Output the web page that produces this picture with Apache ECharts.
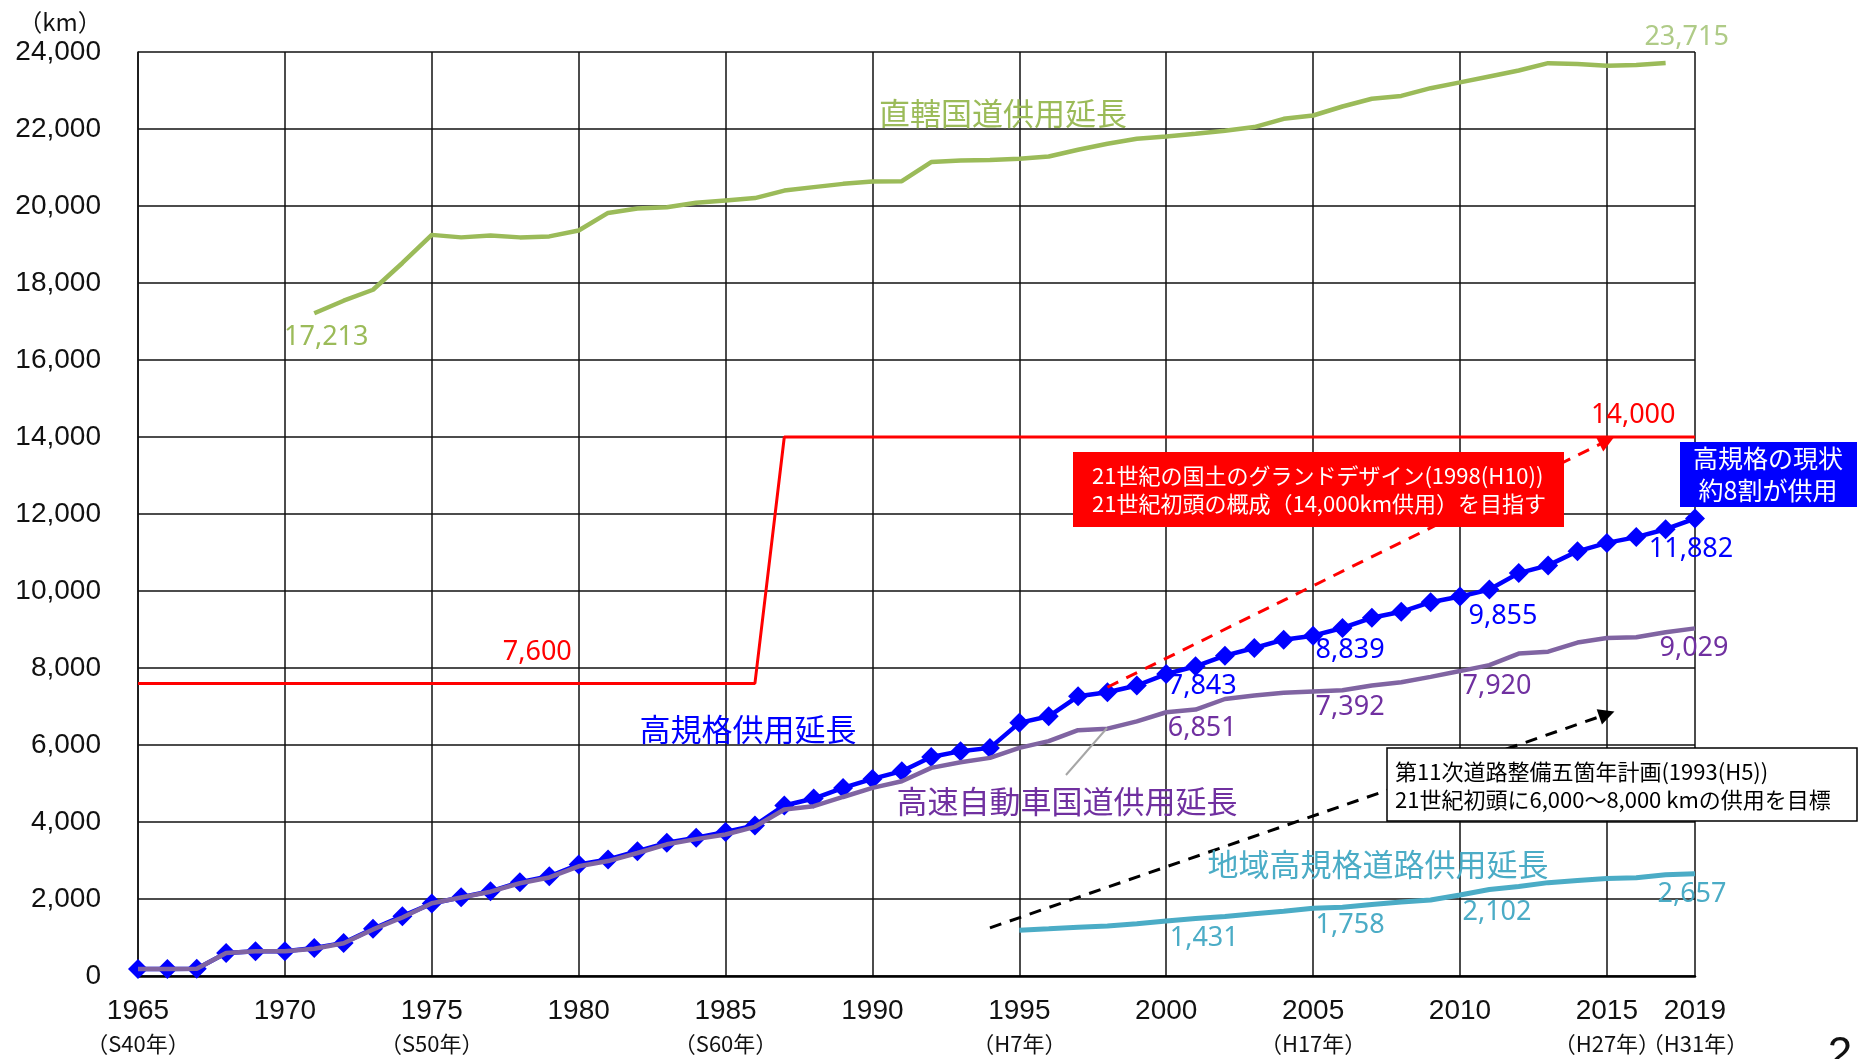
<!DOCTYPE html>
<html>
<head>
<meta charset="utf-8">
<title>高規格道路等の供用延長の推移</title>
<script src="https://cdn.jsdelivr.net/npm/echarts@6/dist/echarts.min.js"></script>
<style>
  html, body { margin: 0; padding: 0; background: #fff; }
  #chart { width: 1863px; height: 1059px; }
</style>
</head>
<body>
<div id="chart"></div>
<script>
// 年度（カテゴリ）: 1965〜2017, 2019
const years = [
  '1965','1966','1967','1968','1969','1970','1971','1972','1973','1974',
  '1975','1976','1977','1978','1979','1980','1981','1982','1983','1984',
  '1985','1986','1987','1988','1989','1990','1991','1992','1993','1994',
  '1995','1996','1997','1998','1999','2000','2001','2002','2003','2004',
  '2005','2006','2007','2008','2009','2010','2011','2012','2013','2014',
  '2015','2016','2017','2019'
];

// 目盛ラベルを出す年と元号併記
const xTickYears = ['1965','1970','1975','1980','1985','1990','1995','2000','2005','2010','2015','2019'];
const latestYear = '2019';
const eraLabels = {
  '1965': '（S40年）', '1975': '（S50年）', '1985': '（S60年）', '1995': '（H7年）',
  '2005': '（H17年）', '2015': '（H27年）', '2019': '（H31年）'
};

// 直轄国道供用延長 (km)
const directNational = [
  null, null, null, null, null, null,
  17213, 17540, 17825, 18520, 19250, 19185, 19235, 19185, 19210, 19365,
  19820, 19935, 19965, 20085, 20145, 20205, 20400, 20490, 20575, 20635,
  20645, 21140, 21180, 21195, 21225, 21285, 21460, 21615, 21745, 21805,
  21875, 21955, 22050, 22265, 22350, 22585, 22785, 22860, 23060, 23210,
  23365, 23520, 23710, 23690, 23640, 23665, 23715,
  null
];

// 高規格供用延長 (km)
const highStandard = [
  181, 181, 190, 600, 645, 645, 730, 860, 1225, 1555,
  1880, 2045, 2200, 2435, 2590, 2895, 3025, 3240, 3460, 3590,
  3740, 3910, 4430, 4610, 4885, 5120, 5320, 5690, 5840, 5925,
  6575, 6745, 7265, 7370, 7545, 7843, 8045, 8320, 8520, 8735,
  8839, 9040, 9305, 9460, 9710, 9855, 10040, 10465, 10665, 11030,
  11250, 11400, 11605, 11882
];

// 高速自動車国道供用延長 (km)
const expressway = [
  181, 181, 190, 600, 640, 640, 710, 850, 1210, 1520,
  1890, 2040, 2190, 2410, 2560, 2850, 2985, 3195, 3420, 3555,
  3675, 3875, 4325, 4410, 4650, 4885, 5060, 5405, 5550, 5665,
  5925, 6100, 6385, 6425, 6615, 6851, 6920, 7195, 7285, 7355,
  7392, 7420, 7545, 7630, 7770, 7920, 8075, 8375, 8425, 8660,
  8780, 8800, 8930, 9029
];

// 地域高規格道路供用延長 (km)
const regionalHighStandard = [
  null, null, null, null, null, null, null, null, null, null,
  null, null, null, null, null, null, null, null, null, null,
  null, null, null, null, null, null, null, null, null, null,
  1190, 1225, 1265, 1300, 1360, 1431, 1495, 1545, 1615, 1680,
  1758, 1785, 1860, 1920, 1975, 2102, 2245, 2325, 2425, 2480,
  2530, 2550, 2630, 2657
];

// 計画延長 (km): 7,600 → 14,000
const planTarget = [
  7600, 7600, 7600, 7600, 7600, 7600, 7600, 7600, 7600, 7600,
  7600, 7600, 7600, 7600, 7600, 7600, 7600, 7600, 7600, 7600,
  7600, 7600,
  14000, 14000, 14000, 14000, 14000, 14000, 14000, 14000,
  14000, 14000, 14000, 14000, 14000, 14000, 14000, 14000,
  14000, 14000, 14000, 14000, 14000, 14000, 14000, 14000,
  14000, 14000, 14000, 14000, 14000, 14000, 14000, 14000
];

// 目標の矢印（始点・終点）
const grandDesignArrow = [['1998', 7500], ['2015', 13900]];
const plan11Arrow = [['1994', 1250], ['2015', 6800]];

const FONT_NUM = "'Noto Sans', 'Noto Sans CJK JP', sans-serif";
const FONT_AXIS = "'Liberation Sans', 'Noto Sans CJK JP', sans-serif";
const FONT_JP = "'Noto Sans CJK JP', sans-serif";
const fmt = v => Number(v).toLocaleString('en-US');

const C_GREEN = '#9BBB59';
const C_BLUE = '#0000FF';
const C_PURPLE_LINE = '#8064A2';
const C_PURPLE_TEXT = '#7030A0';
const C_CYAN = '#4BACC6';
const C_RED = '#FF0000';

// 値ラベル付きのデータ点を組み立てる（offset はラベル中心のずれ）
function withLabels(values, offsets, color, keepMarker) {
  return values.map((v, i) => {
    const off = offsets[years[i]];
    if (v == null || !off) return v;
    const item = {
      value: v,
      label: {
        show: true, position: 'inside', offset: off, color: color,
        fontFamily: FONT_NUM, fontSize: 27, formatter: p => fmt(p.value)
      }
    };
    if (!keepMarker) {
      item.symbol = 'circle';
      item.symbolSize = 2;
      item.itemStyle = { color: 'rgba(0,0,0,0)' };
    }
    return item;
  });
}

// 直轄国道の最終値（2017）だけを取り出す
const directNationalLatest = directNational.map((v, i) => (years[i] === '2017' ? v : null));

const isTick = (i) => xTickYears.includes(years[i]);
const isTickBeforeLatest = (i) => isTick(i) && years[i] !== latestYear;
const isLatest = (i) => years[i] === latestYear;

const yearLabel = v => eraLabels[v] ? `{y|${v}}\n{e|${eraLabels[v]}}` : `{y|${v}}`;
const yearRich = {
  y: { fontFamily: FONT_AXIS, fontSize: 28, lineHeight: 32, color: '#111' },
  e: { fontFamily: FONT_JP, fontSize: 22, lineHeight: 34, color: '#111' }
};

const chart = echarts.init(document.getElementById('chart'), null, { renderer: 'canvas' });

chart.setOption({
  animation: false,
  backgroundColor: '#fff',
  grid: { left: 138, right: 168, top: 52, bottom: 83, containLabel: false, outerBoundsMode: 'none' },
  xAxis: [
    {
      type: 'category',
      data: years,
      boundaryGap: false,
      axisLine: { show: true, onZero: true, lineStyle: { color: '#000', width: 2.5 } },
      axisTick: { show: false },
      axisLabel: { interval: isTickBeforeLatest, margin: 19, formatter: yearLabel, rich: yearRich },
      splitLine: { show: true, interval: isTick, lineStyle: { color: '#111', width: 1.5 } }
    },
    {
      // 最新年（2019）の目盛ラベル
      type: 'category',
      data: years,
      position: 'bottom',
      boundaryGap: false,
      axisLine: { show: false, onZero: false },
      axisTick: { show: false },
      splitLine: { show: false },
      axisLabel: { interval: isLatest, margin: 19, formatter: yearLabel, rich: yearRich }
    }
  ],
  yAxis: {
    type: 'value',
    min: 0, max: 24000, interval: 2000,
    axisLine: { show: true, lineStyle: { color: '#111', width: 1.5 } },
    axisTick: { show: false },
    axisLabel: { margin: 37, fontFamily: FONT_AXIS, fontSize: 28, color: '#111', formatter: v => fmt(v) },
    splitLine: { show: true, lineStyle: { color: '#111', width: 1.5 } }
  },
  series: [
    {
      name: '計画延長',
      type: 'line',
      data: withLabels(planTarget, { '1979': [-12, -31], '2016': [-3, -22] }, C_RED),
      symbol: 'none', showSymbol: true, showAllSymbol: true,
      lineStyle: { color: C_RED, width: 3 },
      itemStyle: { color: C_RED },
      emphasis: { disabled: true },
      silent: true,
      z: 3,
      markLine: {
        silent: true,
        symbol: ['none', 'triangle'],
        symbolSize: 16,
        label: { show: false },
        emphasis: { disabled: true },
        lineStyle: { color: C_RED, width: 3, type: [12, 9] },
        data: [[{ coord: grandDesignArrow[0] }, { coord: grandDesignArrow[1] }]]
      }
    },
    {
      name: '直轄国道供用延長',
      type: 'line',
      data: withLabels(directNational, { '1971': [12, 24] }, C_GREEN),
      symbol: 'none', showSymbol: true, showAllSymbol: true,
      lineStyle: { color: C_GREEN, width: 4.5 },
      itemStyle: { color: C_GREEN },
      emphasis: { disabled: true },
      silent: true,
      z: 3
    },
    {
      name: '直轄国道供用延長（最新）',
      type: 'line',
      data: withLabels(directNationalLatest, { '2017': [21, -26] }, '#AFCB87'),
      symbol: 'none', showSymbol: true, showAllSymbol: true,
      lineStyle: { width: 0 },
      emphasis: { disabled: true },
      silent: true,
      z: 3
    },
    {
      name: '地域高規格道路供用延長',
      type: 'line',
      data: withLabels(regionalHighStandard,
        { '2000': [38, 17], '2005': [37, 17], '2010': [37, 17], '2019': [-3, 21] }, C_CYAN),
      symbol: 'none', showSymbol: true, showAllSymbol: true,
      lineStyle: { color: C_CYAN, width: 5 },
      itemStyle: { color: C_CYAN },
      emphasis: { disabled: true },
      silent: true,
      z: 3,
      markLine: {
        silent: true,
        symbol: ['none', 'triangle'],
        symbolSize: 16,
        label: { show: false },
        emphasis: { disabled: true },
        lineStyle: { color: '#000', width: 3, type: [12, 9] },
        data: [[{ coord: plan11Arrow[0] }, { coord: plan11Arrow[1] }]]
      }
    },
    {
      name: '高規格供用延長',
      type: 'line',
      data: withLabels(highStandard,
        { '2000': [36, 12], '2005': [37, 15], '2010': [43, 20], '2019': [-4, 31] }, C_BLUE, true),
      symbol: 'diamond', symbolSize: [20, 20], showSymbol: true, showAllSymbol: true,
      lineStyle: { color: C_BLUE, width: 4.5 },
      itemStyle: { color: C_BLUE },
      emphasis: { disabled: true },
      silent: true,
      z: 4
    },
    {
      name: '高速自動車国道供用延長',
      type: 'line',
      data: withLabels(expressway,
        { '2000': [36, 16], '2005': [37, 16], '2010': [37, 15], '2019': [-1, 20] }, C_PURPLE_TEXT),
      symbol: 'none', showSymbol: true, showAllSymbol: true,
      lineStyle: { color: C_PURPLE_LINE, width: 4.5 },
      itemStyle: { color: C_PURPLE_LINE },
      emphasis: { disabled: true },
      silent: true,
      z: 5
    }
  ],
  graphic: [
    { type: 'text', x: 60, y: 22, z: 20,
      style: { text: '（km）', fill: '#111', fontFamily: FONT_JP, fontSize: 24, align: 'center', verticalAlign: 'middle' } },

    // 系列名
    { type: 'text', x: 1003, y: 113, z: 20,
      style: { text: '直轄国道供用延長', fill: C_GREEN, fontFamily: FONT_JP, fontSize: 31, align: 'center', verticalAlign: 'middle' } },
    { type: 'text', x: 748, y: 729, z: 20,
      style: { text: '高規格供用延長', fill: C_BLUE, fontFamily: FONT_JP, fontSize: 31, align: 'center', verticalAlign: 'middle' } },
    { type: 'text', x: 1067, y: 801, z: 20,
      style: { text: '高速自動車国道供用延長', fill: C_PURPLE_TEXT, fontFamily: FONT_JP, fontSize: 31, align: 'center', verticalAlign: 'middle' } },
    { type: 'line', z: 20, shape: { x1: 1107, y1: 728, x2: 1066, y2: 775 },
      style: { stroke: '#A6A6A6', lineWidth: 2 } },
    { type: 'text', x: 1378, y: 864, z: 20,
      style: { text: '地域高規格道路供用延長', fill: C_CYAN, fontFamily: FONT_JP, fontSize: 31, align: 'center', verticalAlign: 'middle' } },

    // 21世紀の国土のグランドデザイン
    { type: 'rect', z: 30, shape: { x: 1073, y: 452, width: 491, height: 75 }, style: { fill: C_RED } },
    { type: 'text', x: 1092, y: 476, z: 31,
      style: { text: '21世紀の国土のグランドデザイン(1998(H10))', fill: '#fff', fontFamily: FONT_JP, fontSize: 22, align: 'left', verticalAlign: 'middle' } },
    { type: 'text', x: 1092, y: 504, z: 31,
      style: { text: '21世紀初頭の概成（14,000km供用）を目指す', fill: '#fff', fontFamily: FONT_JP, fontSize: 22, align: 'left', verticalAlign: 'middle' } },

    // 高規格の現状
    { type: 'rect', z: 30, shape: { x: 1680, y: 442, width: 177, height: 65 }, style: { fill: C_BLUE } },
    { type: 'text', x: 1768, y: 458, z: 31,
      style: { text: '高規格の現状', fill: '#fff', fontFamily: FONT_JP, fontSize: 25, align: 'center', verticalAlign: 'middle' } },
    { type: 'text', x: 1768, y: 490, z: 31,
      style: { text: '約8割が供用', fill: '#fff', fontFamily: FONT_JP, fontSize: 25, align: 'center', verticalAlign: 'middle' } },

    // 第11次道路整備五箇年計画
    { type: 'rect', z: 30, shape: { x: 1387, y: 748, width: 470, height: 73 },
      style: { fill: '#fff', stroke: '#000', lineWidth: 1.5 } },
    { type: 'text', x: 1395, y: 772, z: 31,
      style: { text: '第11次道路整備五箇年計画(1993(H5))', fill: '#000', fontFamily: FONT_JP, fontSize: 22, align: 'left', verticalAlign: 'middle' } },
    { type: 'text', x: 1395, y: 800, z: 31,
      style: { text: '21世紀初頭に6,000～8,000 kmの供用を目標', fill: '#000', fontFamily: FONT_JP, fontSize: 22, align: 'left', verticalAlign: 'middle' } },

    // ページ番号
    { type: 'text', x: 1840, y: 1034, z: 20,
      style: { text: '2', fill: '#111', fontFamily: FONT_AXIS, fontSize: 44, align: 'center', verticalAlign: 'top' } }
  ]
});
</script>
</body>
</html>
